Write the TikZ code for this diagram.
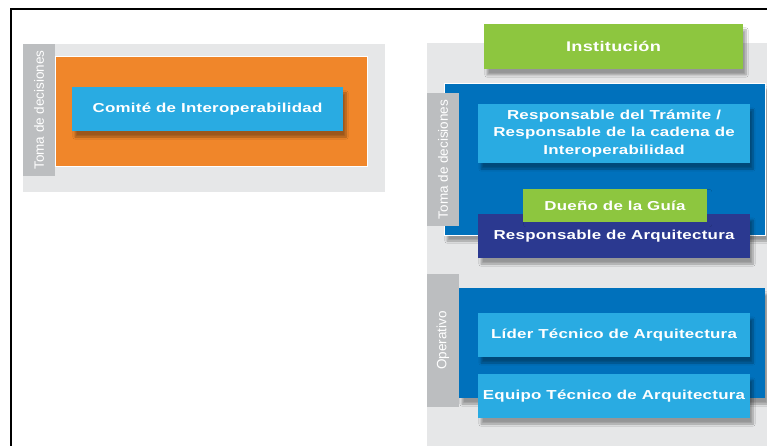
\documentclass[tikz,border=0pt]{standalone}
\usepackage{fontspec}
\setmainfont{Liberation Sans}
\newfontfamily\boxfont[FakeStretch=1.3,LetterSpace=2]{Liberation Sans Bold}
\usetikzlibrary{shadows.blur}
\definecolor{panelgray}{HTML}{E6E7E8}
\definecolor{stripgray}{HTML}{BCBEC0}
\definecolor{orangebg}{HTML}{F0862A}
\definecolor{lightblue}{HTML}{29ABE2}
\definecolor{midblue}{HTML}{0071BC}
\definecolor{leafgreen}{HTML}{8DC63F}
\definecolor{navy}{HTML}{2B3990}
\tikzset{
  base/.style={anchor=north west, inner sep=0pt, outer sep=0pt},
  panel/.style={base, fill=panelgray},
  strip/.style={base, fill=stripgray},
  striplabel/.style={rotate=90, text=white, font=\fontsize{13.5}{15}\selectfont},
  shad/.style={blur shadow={shadow xshift=3pt, shadow yshift=-6pt, shadow opacity=35, shadow blur steps=8}},
  box/.style={base, shad, text=white, align=center, font=\boxfont\fontsize{13}{17.5}\selectfont},
}
\begin{document}
\begin{tikzpicture}[x=1pt, y=-1pt]
\useasboundingbox (0,0) rectangle (767,446);
\clip (0,0) rectangle (767,446);
\fill[white] (0,0) rectangle (767,446);
% frame
\draw[line width=2pt] (11,448) -- (11,9) -- (770,9);
% left panel
\node[panel, minimum width=362pt, minimum height=148pt] (leftbg) at (23,44) {};
\node[strip, minimum width=32pt, minimum height=132pt] (leftstrip) at (23,44) {};
\node[striplabel] (leftlabel) at (leftstrip.center) {Toma de decisiones};
\node[base, fill=orangebg, draw=white, line width=1pt, minimum width=312pt, minimum height=110pt] (orange) at (55,57) {};
\node[box, fill=lightblue, minimum width=271pt, minimum height=44pt] (comite) at (72,87) {Comité de Interoperabilidad};
% right panel
\node[panel, minimum width=345pt, minimum height=410pt] (rightbg) at (427,43) {};
\node[box, fill=leafgreen, minimum width=259pt, minimum height=45pt, font=\boxfont\fontsize{14}{17}\selectfont] (inst) at (484,24) {Institución};
\node[base, shad, fill=midblue, draw=white, line width=0.8pt, minimum width=321pt, minimum height=152pt] (bluetop) at (444,83) {};
\node[strip, minimum width=32pt, minimum height=133pt] (striptop) at (427,93) {};
\node[striplabel] (toplabel) at (striptop.center) {Toma de decisiones};
\node[box, fill=lightblue, minimum width=272pt, minimum height=59pt] (tramite) at (478,104) {Responsable del Trámite /\\Responsable de la cadena de\\Interoperabilidad};
\node[box, fill=navy, minimum width=272pt, minimum height=44pt] (arq) at (478,214) {\raisebox{-3pt}{Responsable de Arquitectura}};
\node[box, fill=leafgreen, minimum width=184pt, minimum height=33pt, blur shadow={shadow opacity=0}] (duenio) at (523,189) {Dueño de la Guía};
\node[strip, minimum width=32pt, minimum height=133pt] (stripop) at (427,274) {};
\node[striplabel] (oplabel) at (stripop.center) {Operativo};
\node[base, shad, fill=midblue, minimum width=306pt, minimum height=110pt] (bluebot) at (459,288) {};
\node[box, fill=lightblue, minimum width=272pt, minimum height=44pt] (lider) at (478,313) {Líder Técnico de Arquitectura};
\node[box, fill=lightblue, minimum width=272pt, minimum height=44pt] (equipo) at (478,374) {Equipo Técnico de Arquitectura};
\end{tikzpicture}
\end{document}
